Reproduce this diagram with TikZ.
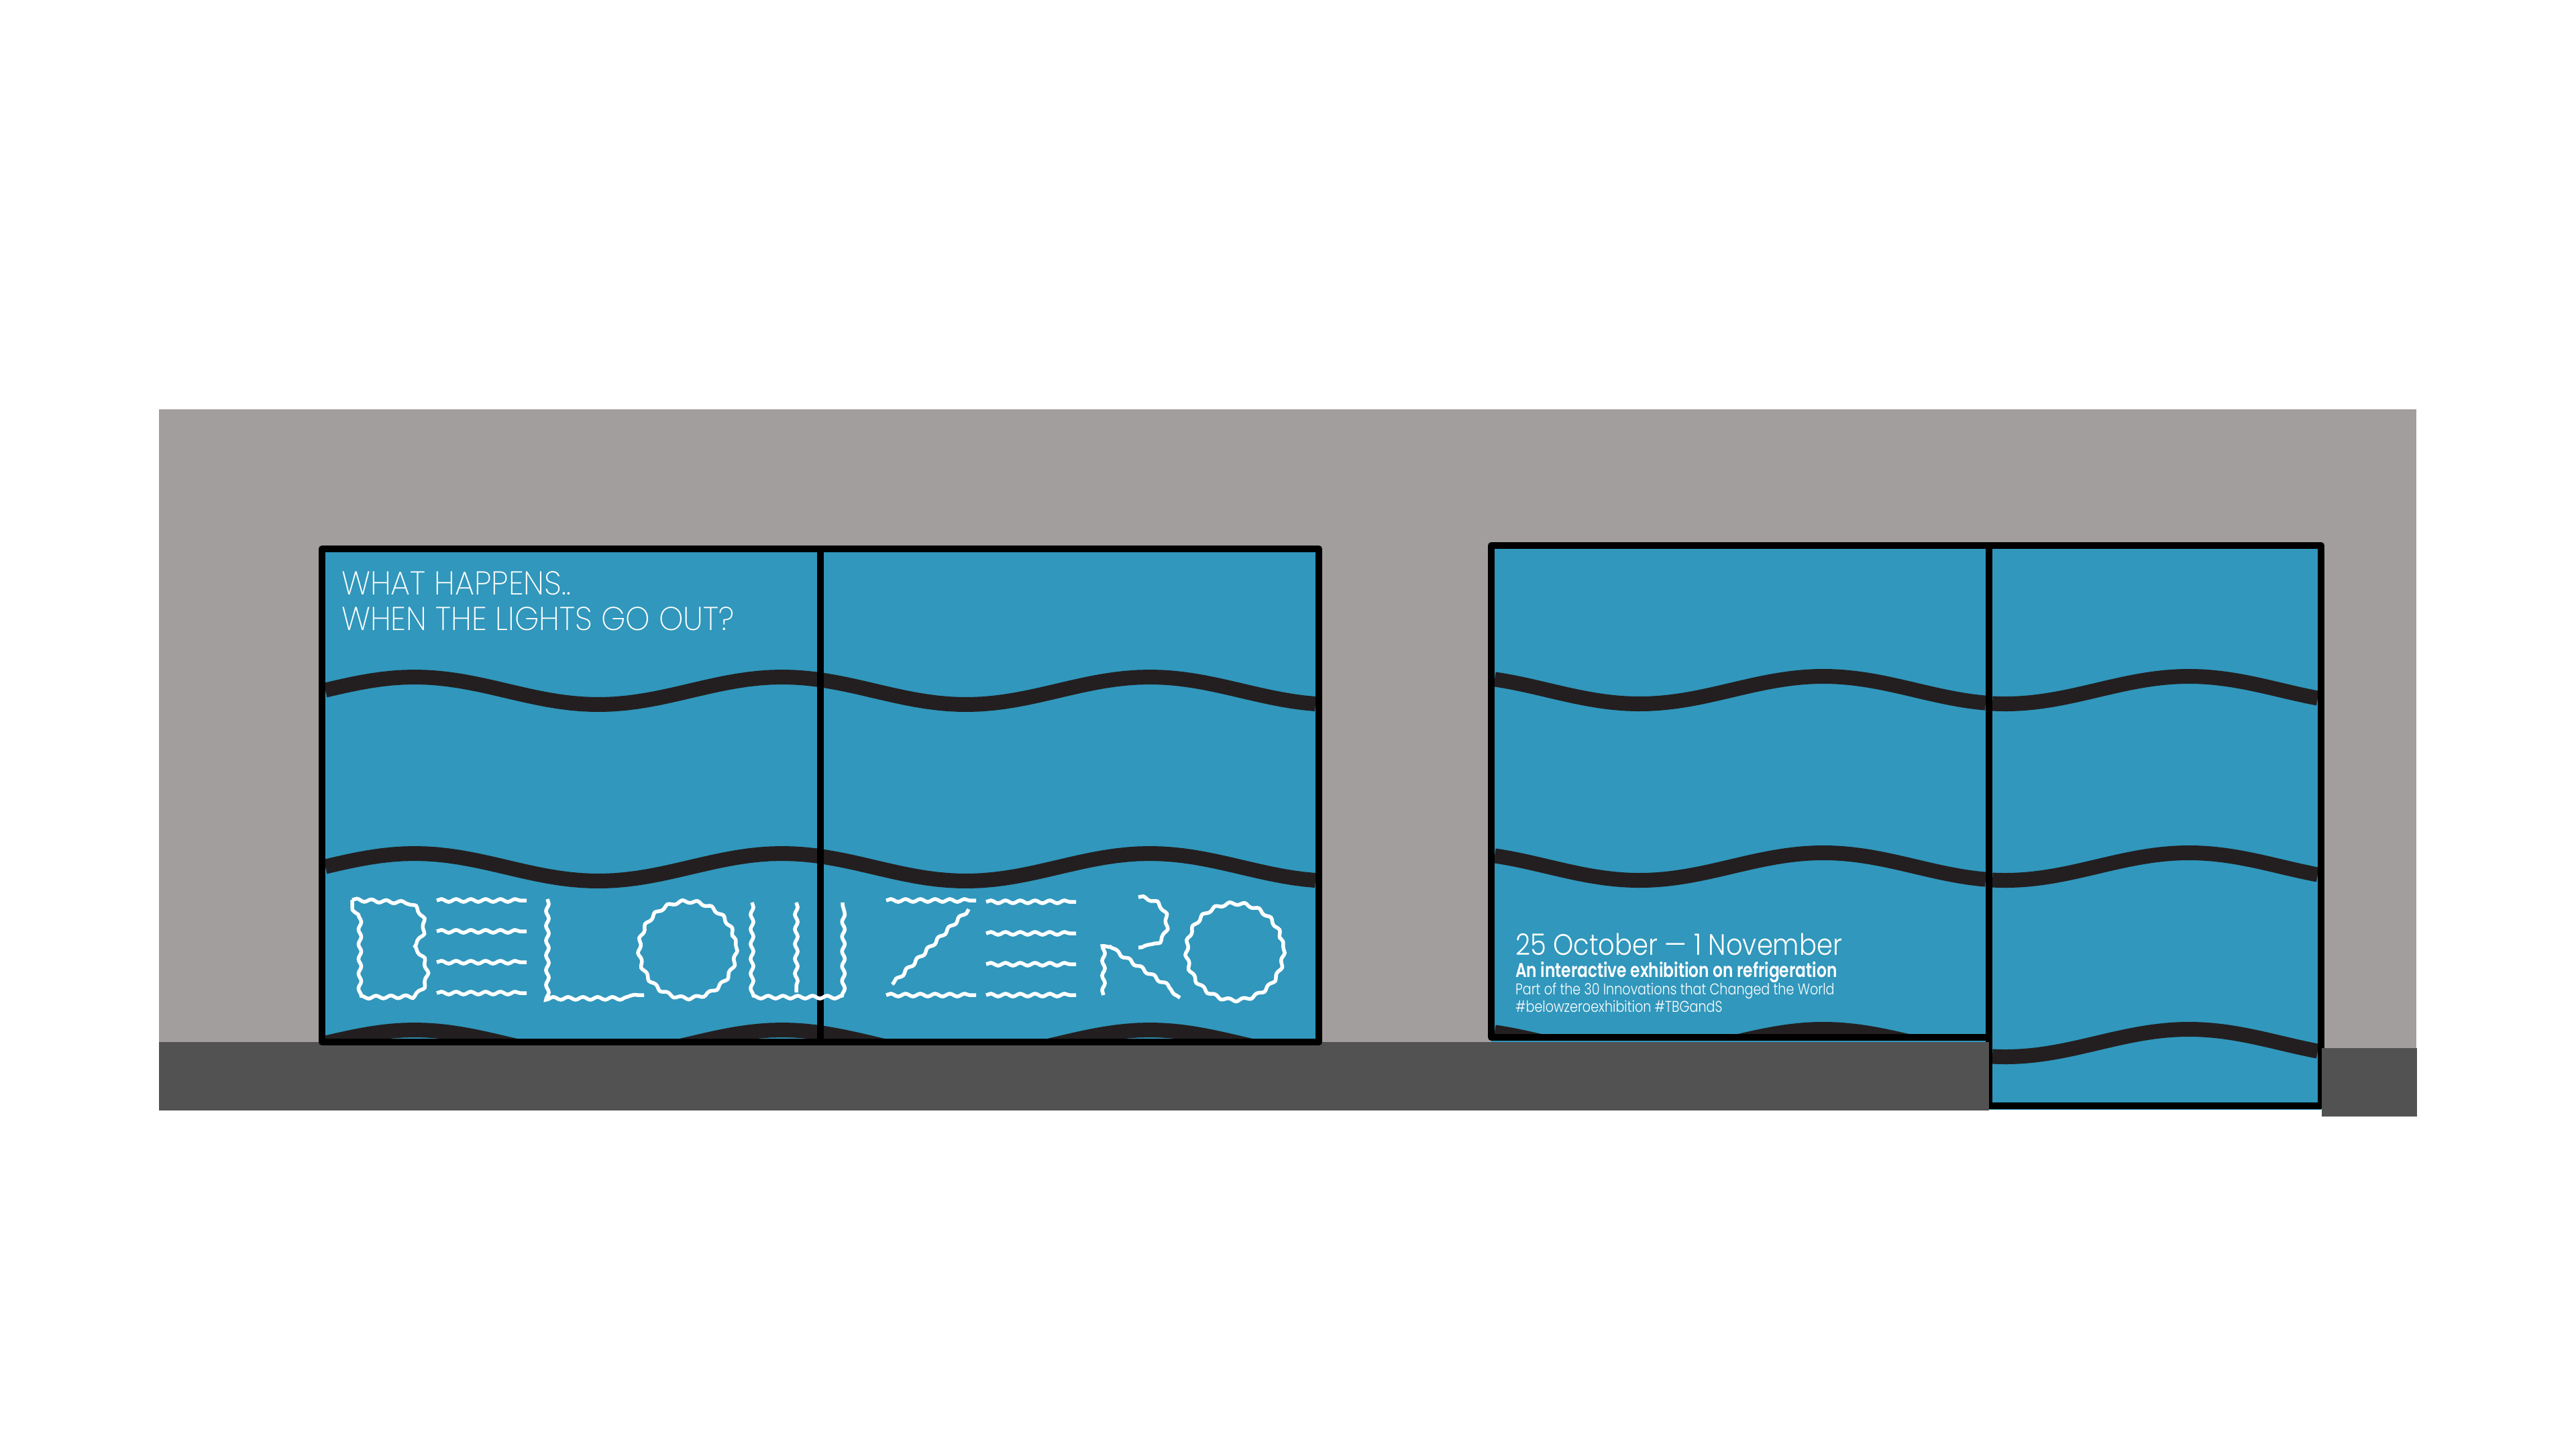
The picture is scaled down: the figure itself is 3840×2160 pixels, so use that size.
\documentclass[tikz,border=0pt]{standalone}
\usepackage{fontspec}
\usetikzlibrary{decorations.pathmorphing}
\newfontfamily\thinfont[FakeStretch=.94]{Poppins ExtraLight}
\newfontfamily\lightfont[FakeStretch=.875]{Poppins Light}
\newfontfamily\smallfont[FakeStretch=.825]{Poppins Light}
\newfontfamily\boldfont[FakeStretch=.79]{Poppins SemiBold}
\definecolor{wallgray}{HTML}{A29E9D}
\definecolor{floorgray}{HTML}{525252}
\definecolor{glassblue}{HTML}{3197BC}
\definecolor{wavedark}{HTML}{231F20}
\tikzset{
	framed/.style={draw=black,line width=.1cm,line join=round},
	wave/.style={draw=wavedark,line width=.22cm},
	wavy/.style={draw=white,line width=.055cm,decorate,decoration={snake,segment length=.22cm,amplitude=.021cm}},
	caption/.style={text=white,anchor=base west,inner sep=0pt,outer sep=0pt}
}
\newcommand{\seawave}[4]{% from, to, peak x, mean y
	\draw[wave] plot[domain=#1:#2,samples=90] (\x,{#4-20.5*cos((\x-#3)/548*360)});}
\begin{document}
\begin{tikzpicture}[x=.01cm,y=-.01cm]
	\useasboundingbox (0,0) rectangle (3840,2160);
	\fill[white] (0,0) rectangle (3840,2160);
	% wall
	\fill[wallgray] (237,610) rectangle (3602,1562);

	% right window, under the floor
	\fill[glassblue] (2223,813) rectangle (2965,1553);
	\fill[glassblue] (2965,813) rectangle (3460,1654);
	\begin{scope}
		\clip (2228,818) rectangle (2960,1541);
		\foreach \ymean in {1028.5,1291.5,1554.5}
			{\seawave{2228}{2960}{2718}{\ymean}}
	\end{scope}
	\begin{scope}
		\clip (2970,818) rectangle (3455,1643);
		\foreach \ymean in {1028.5,1291.5,1554.5}
			{\seawave{2970}{3455}{3263}{\ymean}}
	\end{scope}
	\draw[framed] (2965,1546) -- (2223,1546) -- (2223,813) -- (3460,813) -- (3460,1648) -- (2965,1648) -- (2965,813);

	% floor
	\fill[floorgray] (237,1553) rectangle (2965,1655);
	\fill[floorgray] (3461,1562) rectangle (3603,1664);

	% left window
	\fill[glassblue] (480,818) rectangle (1966,1553);
	\begin{scope}
		\clip (485,823) rectangle (1961,1548);
		\foreach \ymean in {1029.5,1292.5,1555.5}
			{\seawave{485}{1961}{618}{\ymean}}
	\end{scope}
	\draw[framed] (480,818) rectangle (1966,1553);
	\draw[framed] (1223,818) -- (1223,1553);

	% BELOW
	\draw[wavy] (525,1341) -- (603,1345) .. controls (614,1350) and (626,1362) .. (626,1379)
		.. controls (626,1396) and (616,1404) .. (609,1410) .. controls (616,1416) and (626,1428) .. (626,1448)
		.. controls (626,1466) and (614,1478) .. (603,1482) -- (525,1483) -- cycle;
	\foreach \ybar in {1342,1388,1434,1480}
		\draw[wavy] (651,\ybar) -- (785,\ybar);
	\draw[wavy] (816,1340) -- (816,1483) -- (960,1483);
	\draw[wavy] (1025,1410) circle (72);
	\draw[wavy] (1121,1345) -- (1121,1479) -- (1256,1479) -- (1256,1345);
	\draw[wavy] (1187,1345) -- (1187,1479);
	% ZERO
	\draw[wavy] (1321,1342) -- (1455,1342);
	\draw[wavy] (1444,1355) -- (1330,1467);
	\draw[wavy] (1321,1483) -- (1455,1483);
	\foreach \ybar in {1344,1391,1437,1483}
		\draw[wavy] (1470,\ybar) -- (1604,\ybar);
	\draw[wavy] (1697,1337) .. controls (1722,1340) and (1734,1355) .. (1734,1375)
		.. controls (1734,1395) and (1722,1410) .. (1697,1412);
	\draw[wavy] (1645,1483) -- (1645,1422) .. controls (1645,1408) and (1656,1408) .. (1664,1424) -- (1759,1487);
	\draw[wavy] (1841,1413) circle (72);

	% texts
	\node[caption,font=\thinfont\fontsize{14}{14}\selectfont] (happens) at (509,886) {WHAT HAPPENS..};
	\node[caption,font=\thinfont\fontsize{14}{14}\selectfont] (lights) at (509,939) {WHEN THE LIGHTS GO OUT?};
	\node[caption,font=\lightfont\fontsize{12.5}{12.5}\selectfont] (dates) at (2259,1423) {25 October — 1 November};
	\node[caption,font=\boldfont\fontsize{8.4}{8.4}\selectfont] (about) at (2259,1456) {An interactive exhibition on refrigeration};
	\node[caption,font=\smallfont\fontsize{6.6}{6.6}\selectfont] (series) at (2259,1482) {Part of the 30 Innovations that Changed the World};
	\node[caption,font=\smallfont\fontsize{6.6}{6.6}\selectfont] (tags) at (2259,1508) {\#belowzeroexhibition \#TBGandS};
\end{tikzpicture}
\end{document}
